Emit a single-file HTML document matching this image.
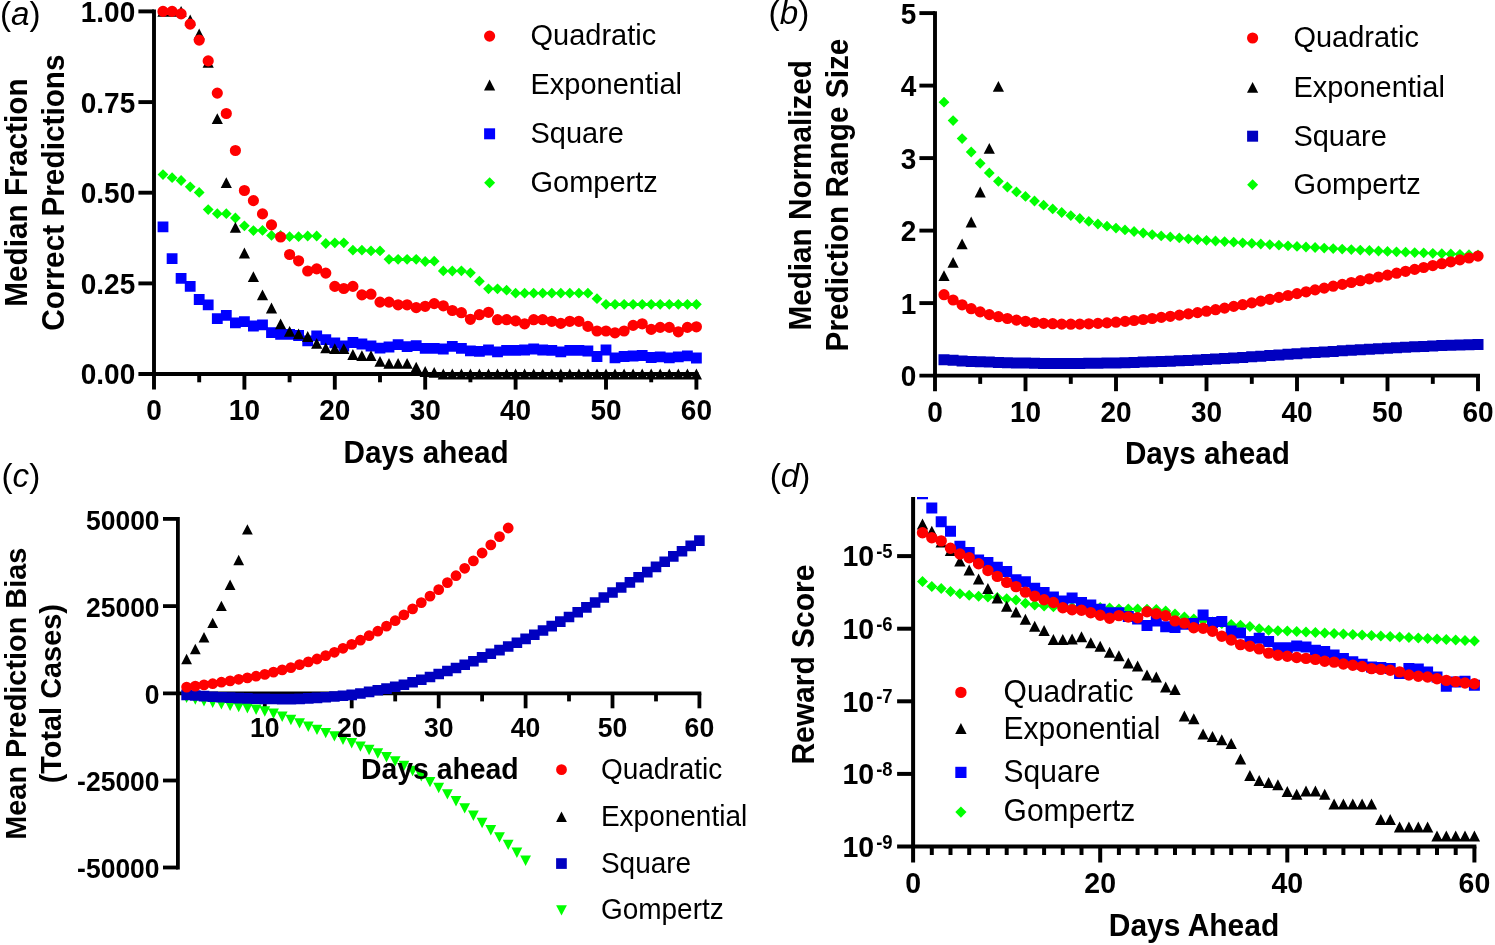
<!DOCTYPE html>
<html lang="en">
<head>
<meta charset="utf-8">
<title>Figure: prediction performance by model (Quadratic, Exponential, Square, Gompertz)</title>
<style>
html,body{margin:0;padding:0;background:#fff;}
body{width:1495px;height:945px;overflow:hidden;font-family:"Liberation Sans",sans-serif;}
svg{display:block;}
svg{will-change:transform;}
</style>
</head>
<body>
<svg width="1495" height="945" viewBox="0 0 1495 945" font-family="'Liberation Sans', sans-serif" fill="#000">
<rect width="1495" height="945" fill="#fff"/>
<path d="M154 9.5L154 389.6" stroke="#000" stroke-width="3.9" fill="none"/>
<path d="M138.4 374L698.4 374" stroke="#000" stroke-width="3.9" fill="none"/>
<path d="M138.4 11.4L154 11.4" stroke="#000" stroke-width="3.9" fill="none"/>
<path d="M138.4 102.1L154 102.1" stroke="#000" stroke-width="3.9" fill="none"/>
<path d="M138.4 192.7L154 192.7" stroke="#000" stroke-width="3.9" fill="none"/>
<path d="M138.4 283.4L154 283.4" stroke="#000" stroke-width="3.9" fill="none"/>
<path d="M244.4 374L244.4 389.6" stroke="#000" stroke-width="3.9" fill="none"/>
<path d="M334.8 374L334.8 389.6" stroke="#000" stroke-width="3.9" fill="none"/>
<path d="M425.2 374L425.2 389.6" stroke="#000" stroke-width="3.9" fill="none"/>
<path d="M515.6 374L515.6 389.6" stroke="#000" stroke-width="3.9" fill="none"/>
<path d="M606 374L606 389.6" stroke="#000" stroke-width="3.9" fill="none"/>
<path d="M696.4 374L696.4 389.6" stroke="#000" stroke-width="3.9" fill="none"/>
<path d="M199.2 374L199.2 382.3" stroke="#000" stroke-width="3.9" fill="none"/>
<path d="M289.6 374L289.6 382.3" stroke="#000" stroke-width="3.9" fill="none"/>
<path d="M380 374L380 382.3" stroke="#000" stroke-width="3.9" fill="none"/>
<path d="M470.4 374L470.4 382.3" stroke="#000" stroke-width="3.9" fill="none"/>
<path d="M560.8 374L560.8 382.3" stroke="#000" stroke-width="3.9" fill="none"/>
<path d="M651.2 374L651.2 382.3" stroke="#000" stroke-width="3.9" fill="none"/>
<path d="M163 169.2l5.4 5.4l-5.4 5.4l-5.4 -5.4zM172.1 172.3l5.4 5.4l-5.4 5.4l-5.4 -5.4zM181.1 175.1l5.4 5.4l-5.4 5.4l-5.4 -5.4zM190.2 181.4l5.4 5.4l-5.4 5.4l-5.4 -5.4zM199.2 187l5.4 5.4l-5.4 5.4l-5.4 -5.4zM208.2 204.2l5.4 5.4l-5.4 5.4l-5.4 -5.4zM217.3 208.3l5.4 5.4l-5.4 5.4l-5.4 -5.4zM226.3 208.3l5.4 5.4l-5.4 5.4l-5.4 -5.4zM235.4 212.6l5.4 5.4l-5.4 5.4l-5.4 -5.4zM244.4 220.4l5.4 5.4l-5.4 5.4l-5.4 -5.4zM253.4 225.2l5.4 5.4l-5.4 5.4l-5.4 -5.4zM262.5 225l5.4 5.4l-5.4 5.4l-5.4 -5.4zM271.5 230l5.4 5.4l-5.4 5.4l-5.4 -5.4zM280.6 230l5.4 5.4l-5.4 5.4l-5.4 -5.4zM289.6 231.3l5.4 5.4l-5.4 5.4l-5.4 -5.4zM298.6 231.3l5.4 5.4l-5.4 5.4l-5.4 -5.4zM307.7 230.6l5.4 5.4l-5.4 5.4l-5.4 -5.4zM316.7 230.6l5.4 5.4l-5.4 5.4l-5.4 -5.4zM325.8 238.1l5.4 5.4l-5.4 5.4l-5.4 -5.4zM334.8 237.4l5.4 5.4l-5.4 5.4l-5.4 -5.4zM343.8 237.4l5.4 5.4l-5.4 5.4l-5.4 -5.4zM352.9 244.8l5.4 5.4l-5.4 5.4l-5.4 -5.4zM361.9 244.8l5.4 5.4l-5.4 5.4l-5.4 -5.4zM371 245.5l5.4 5.4l-5.4 5.4l-5.4 -5.4zM380 245.5l5.4 5.4l-5.4 5.4l-5.4 -5.4zM389 253.9l5.4 5.4l-5.4 5.4l-5.4 -5.4zM398.1 253.9l5.4 5.4l-5.4 5.4l-5.4 -5.4zM407.1 253.9l5.4 5.4l-5.4 5.4l-5.4 -5.4zM416.2 253.9l5.4 5.4l-5.4 5.4l-5.4 -5.4zM425.2 256.1l5.4 5.4l-5.4 5.4l-5.4 -5.4zM434.2 255.8l5.4 5.4l-5.4 5.4l-5.4 -5.4zM443.3 265.5l5.4 5.4l-5.4 5.4l-5.4 -5.4zM452.3 265.6l5.4 5.4l-5.4 5.4l-5.4 -5.4zM461.4 265.4l5.4 5.4l-5.4 5.4l-5.4 -5.4zM470.4 267.4l5.4 5.4l-5.4 5.4l-5.4 -5.4zM479.4 275.8l5.4 5.4l-5.4 5.4l-5.4 -5.4zM488.5 283.4l5.4 5.4l-5.4 5.4l-5.4 -5.4zM497.5 283.4l5.4 5.4l-5.4 5.4l-5.4 -5.4zM506.6 284.8l5.4 5.4l-5.4 5.4l-5.4 -5.4zM515.6 287.8l5.4 5.4l-5.4 5.4l-5.4 -5.4zM524.6 287.8l5.4 5.4l-5.4 5.4l-5.4 -5.4zM533.7 287.8l5.4 5.4l-5.4 5.4l-5.4 -5.4zM542.7 287.8l5.4 5.4l-5.4 5.4l-5.4 -5.4zM551.8 287.8l5.4 5.4l-5.4 5.4l-5.4 -5.4zM560.8 287.8l5.4 5.4l-5.4 5.4l-5.4 -5.4zM569.8 287.8l5.4 5.4l-5.4 5.4l-5.4 -5.4zM578.9 287.8l5.4 5.4l-5.4 5.4l-5.4 -5.4zM587.9 287.8l5.4 5.4l-5.4 5.4l-5.4 -5.4zM597 293.3l5.4 5.4l-5.4 5.4l-5.4 -5.4zM606 298.9l5.4 5.4l-5.4 5.4l-5.4 -5.4zM615 298.9l5.4 5.4l-5.4 5.4l-5.4 -5.4zM624.1 298.9l5.4 5.4l-5.4 5.4l-5.4 -5.4zM633.1 298.9l5.4 5.4l-5.4 5.4l-5.4 -5.4zM642.2 298.9l5.4 5.4l-5.4 5.4l-5.4 -5.4zM651.2 298.9l5.4 5.4l-5.4 5.4l-5.4 -5.4zM660.2 298.9l5.4 5.4l-5.4 5.4l-5.4 -5.4zM669.3 298.9l5.4 5.4l-5.4 5.4l-5.4 -5.4zM678.3 298.9l5.4 5.4l-5.4 5.4l-5.4 -5.4zM687.4 298.9l5.4 5.4l-5.4 5.4l-5.4 -5.4zM696.4 298.9l5.4 5.4l-5.4 5.4l-5.4 -5.4z" fill="#00ff00"/>
<path d="M157.6 221.4h10.8v10.8h-10.8zM166.7 253.3h10.8v10.8h-10.8zM175.7 273h10.8v10.8h-10.8zM184.8 281h10.8v10.8h-10.8zM193.8 294.1h10.8v10.8h-10.8zM202.8 299.4h10.8v10.8h-10.8zM211.9 313.2h10.8v10.8h-10.8zM220.9 310h10.8v10.8h-10.8zM230 317.4h10.8v10.8h-10.8zM239 316.3h10.8v10.8h-10.8zM248 320.6h10.8v10.8h-10.8zM257.1 319.5h10.8v10.8h-10.8zM266.1 327.3h10.8v10.8h-10.8zM275.2 329h10.8v10.8h-10.8zM284.2 329h10.8v10.8h-10.8zM293.2 330.1h10.8v10.8h-10.8zM302.3 335.4h10.8v10.8h-10.8zM311.3 330.5h10.8v10.8h-10.8zM320.4 334.3h10.8v10.8h-10.8zM329.4 337.5h10.8v10.8h-10.8zM338.4 340.6h10.8v10.8h-10.8zM347.5 337.1h10.8v10.8h-10.8zM356.5 338.6h10.8v10.8h-10.8zM365.6 340.6h10.8v10.8h-10.8zM374.6 342.8h10.8v10.8h-10.8zM383.6 341.6h10.8v10.8h-10.8zM392.7 339.2h10.8v10.8h-10.8zM401.7 341.3h10.8v10.8h-10.8zM410.8 340.2h10.8v10.8h-10.8zM419.8 342.9h10.8v10.8h-10.8zM428.8 343h10.8v10.8h-10.8zM437.9 343.6h10.8v10.8h-10.8zM446.9 341h10.8v10.8h-10.8zM456 343h10.8v10.8h-10.8zM465 345.4h10.8v10.8h-10.8zM474 346h10.8v10.8h-10.8zM483.1 344.6h10.8v10.8h-10.8zM492.1 346.4h10.8v10.8h-10.8zM501.2 345h10.8v10.8h-10.8zM510.2 345h10.8v10.8h-10.8zM519.2 344.6h10.8v10.8h-10.8zM528.3 343.6h10.8v10.8h-10.8zM537.3 344.6h10.8v10.8h-10.8zM546.4 345h10.8v10.8h-10.8zM555.4 346.4h10.8v10.8h-10.8zM564.4 345h10.8v10.8h-10.8zM573.5 345h10.8v10.8h-10.8zM582.5 345.6h10.8v10.8h-10.8zM591.6 351.1h10.8v10.8h-10.8zM600.6 344.6h10.8v10.8h-10.8zM609.6 352.5h10.8v10.8h-10.8zM618.7 351.1h10.8v10.8h-10.8zM627.7 350.6h10.8v10.8h-10.8zM636.8 350.1h10.8v10.8h-10.8zM645.8 352.1h10.8v10.8h-10.8zM654.8 351.5h10.8v10.8h-10.8zM663.9 352.5h10.8v10.8h-10.8zM672.9 351.5h10.8v10.8h-10.8zM682 350.5h10.8v10.8h-10.8zM691 352.6h10.8v10.8h-10.8z" fill="#0000ff"/>
<path d="M163 6l5.6 10.8h-11.2zM172.1 6l5.6 10.8h-11.2zM181.1 6l5.6 10.8h-11.2zM190.2 14.6l5.6 10.8h-11.2zM199.2 28.6l5.6 10.8h-11.2zM208.2 57l5.6 10.8h-11.2zM217.3 113.2l5.6 10.8h-11.2zM226.3 177.3l5.6 10.8h-11.2zM235.4 222l5.6 10.8h-11.2zM244.4 247.6l5.6 10.8h-11.2zM253.4 271.3l5.6 10.8h-11.2zM262.5 289.5l5.6 10.8h-11.2zM271.5 302.6l5.6 10.8h-11.2zM280.6 318.5l5.6 10.8h-11.2zM289.6 325.9l5.6 10.8h-11.2zM298.6 328.4l5.6 10.8h-11.2zM307.7 331.1l5.6 10.8h-11.2zM316.7 337.9l5.6 10.8h-11.2zM325.8 342.4l5.6 10.8h-11.2zM334.8 343.2l5.6 10.8h-11.2zM343.8 343.2l5.6 10.8h-11.2zM352.9 349.1l5.6 10.8h-11.2zM361.9 350.2l5.6 10.8h-11.2zM371 350.2l5.6 10.8h-11.2zM380 355.9l5.6 10.8h-11.2zM389 358l5.6 10.8h-11.2zM398.1 358l5.6 10.8h-11.2zM407.1 358l5.6 10.8h-11.2zM416.2 361.8l5.6 10.8h-11.2zM425.2 366.1l5.6 10.8h-11.2zM434.2 366.9l5.6 10.8h-11.2zM443.3 368.6l5.6 10.8h-11.2zM452.3 368.6l5.6 10.8h-11.2zM461.4 368.6l5.6 10.8h-11.2zM470.4 368.6l5.6 10.8h-11.2zM479.4 368.6l5.6 10.8h-11.2zM488.5 368.6l5.6 10.8h-11.2zM497.5 368.6l5.6 10.8h-11.2zM506.6 368.6l5.6 10.8h-11.2zM515.6 368.6l5.6 10.8h-11.2zM524.6 368.6l5.6 10.8h-11.2zM533.7 368.6l5.6 10.8h-11.2zM542.7 368.6l5.6 10.8h-11.2zM551.8 368.6l5.6 10.8h-11.2zM560.8 368.6l5.6 10.8h-11.2zM569.8 368.6l5.6 10.8h-11.2zM578.9 368.6l5.6 10.8h-11.2zM587.9 368.6l5.6 10.8h-11.2zM597 368.6l5.6 10.8h-11.2zM606 368.6l5.6 10.8h-11.2zM615 368.6l5.6 10.8h-11.2zM624.1 368.6l5.6 10.8h-11.2zM633.1 368.6l5.6 10.8h-11.2zM642.2 368.6l5.6 10.8h-11.2zM651.2 368.6l5.6 10.8h-11.2zM660.2 368.6l5.6 10.8h-11.2zM669.3 368.6l5.6 10.8h-11.2zM678.3 368.6l5.6 10.8h-11.2zM687.4 368.6l5.6 10.8h-11.2zM696.4 368.6l5.6 10.8h-11.2z" fill="#000"/>
<path d="M157.4 11.4a5.6 5.6 0 1 0 11.2 0a5.6 5.6 0 1 0 -11.2 0zM166.5 11.4a5.6 5.6 0 1 0 11.2 0a5.6 5.6 0 1 0 -11.2 0zM175.5 13.9a5.6 5.6 0 1 0 11.2 0a5.6 5.6 0 1 0 -11.2 0zM184.6 24.1a5.6 5.6 0 1 0 11.2 0a5.6 5.6 0 1 0 -11.2 0zM193.6 40.1a5.6 5.6 0 1 0 11.2 0a5.6 5.6 0 1 0 -11.2 0zM202.6 60.9a5.6 5.6 0 1 0 11.2 0a5.6 5.6 0 1 0 -11.2 0zM211.7 93.1a5.6 5.6 0 1 0 11.2 0a5.6 5.6 0 1 0 -11.2 0zM220.7 113.5a5.6 5.6 0 1 0 11.2 0a5.6 5.6 0 1 0 -11.2 0zM229.8 150.5a5.6 5.6 0 1 0 11.2 0a5.6 5.6 0 1 0 -11.2 0zM238.8 190.5a5.6 5.6 0 1 0 11.2 0a5.6 5.6 0 1 0 -11.2 0zM247.8 200.6a5.6 5.6 0 1 0 11.2 0a5.6 5.6 0 1 0 -11.2 0zM256.9 213.9a5.6 5.6 0 1 0 11.2 0a5.6 5.6 0 1 0 -11.2 0zM265.9 224.9a5.6 5.6 0 1 0 11.2 0a5.6 5.6 0 1 0 -11.2 0zM275 237a5.6 5.6 0 1 0 11.2 0a5.6 5.6 0 1 0 -11.2 0zM284 254.5a5.6 5.6 0 1 0 11.2 0a5.6 5.6 0 1 0 -11.2 0zM293 260.8a5.6 5.6 0 1 0 11.2 0a5.6 5.6 0 1 0 -11.2 0zM302.1 271a5.6 5.6 0 1 0 11.2 0a5.6 5.6 0 1 0 -11.2 0zM311.1 268.9a5.6 5.6 0 1 0 11.2 0a5.6 5.6 0 1 0 -11.2 0zM320.2 273.1a5.6 5.6 0 1 0 11.2 0a5.6 5.6 0 1 0 -11.2 0zM329.2 286.4a5.6 5.6 0 1 0 11.2 0a5.6 5.6 0 1 0 -11.2 0zM338.2 288.5a5.6 5.6 0 1 0 11.2 0a5.6 5.6 0 1 0 -11.2 0zM347.3 286.4a5.6 5.6 0 1 0 11.2 0a5.6 5.6 0 1 0 -11.2 0zM356.3 294.9a5.6 5.6 0 1 0 11.2 0a5.6 5.6 0 1 0 -11.2 0zM365.4 294.2a5.6 5.6 0 1 0 11.2 0a5.6 5.6 0 1 0 -11.2 0zM374.4 302.1a5.6 5.6 0 1 0 11.2 0a5.6 5.6 0 1 0 -11.2 0zM383.4 302.1a5.6 5.6 0 1 0 11.2 0a5.6 5.6 0 1 0 -11.2 0zM392.5 304.8a5.6 5.6 0 1 0 11.2 0a5.6 5.6 0 1 0 -11.2 0zM401.5 304.8a5.6 5.6 0 1 0 11.2 0a5.6 5.6 0 1 0 -11.2 0zM410.6 307.6a5.6 5.6 0 1 0 11.2 0a5.6 5.6 0 1 0 -11.2 0zM419.6 306.3a5.6 5.6 0 1 0 11.2 0a5.6 5.6 0 1 0 -11.2 0zM428.6 303.6a5.6 5.6 0 1 0 11.2 0a5.6 5.6 0 1 0 -11.2 0zM437.7 305.8a5.6 5.6 0 1 0 11.2 0a5.6 5.6 0 1 0 -11.2 0zM446.7 310.5a5.6 5.6 0 1 0 11.2 0a5.6 5.6 0 1 0 -11.2 0zM455.8 312.7a5.6 5.6 0 1 0 11.2 0a5.6 5.6 0 1 0 -11.2 0zM464.8 319.3a5.6 5.6 0 1 0 11.2 0a5.6 5.6 0 1 0 -11.2 0zM473.8 314.7a5.6 5.6 0 1 0 11.2 0a5.6 5.6 0 1 0 -11.2 0zM482.9 312.3a5.6 5.6 0 1 0 11.2 0a5.6 5.6 0 1 0 -11.2 0zM491.9 319.7a5.6 5.6 0 1 0 11.2 0a5.6 5.6 0 1 0 -11.2 0zM501 319.7a5.6 5.6 0 1 0 11.2 0a5.6 5.6 0 1 0 -11.2 0zM510 320.9a5.6 5.6 0 1 0 11.2 0a5.6 5.6 0 1 0 -11.2 0zM519 323.8a5.6 5.6 0 1 0 11.2 0a5.6 5.6 0 1 0 -11.2 0zM528.1 319.7a5.6 5.6 0 1 0 11.2 0a5.6 5.6 0 1 0 -11.2 0zM537.1 319.7a5.6 5.6 0 1 0 11.2 0a5.6 5.6 0 1 0 -11.2 0zM546.2 321.3a5.6 5.6 0 1 0 11.2 0a5.6 5.6 0 1 0 -11.2 0zM555.2 323.4a5.6 5.6 0 1 0 11.2 0a5.6 5.6 0 1 0 -11.2 0zM564.2 321.3a5.6 5.6 0 1 0 11.2 0a5.6 5.6 0 1 0 -11.2 0zM573.3 321.3a5.6 5.6 0 1 0 11.2 0a5.6 5.6 0 1 0 -11.2 0zM582.3 326.4a5.6 5.6 0 1 0 11.2 0a5.6 5.6 0 1 0 -11.2 0zM591.4 331a5.6 5.6 0 1 0 11.2 0a5.6 5.6 0 1 0 -11.2 0zM600.4 331a5.6 5.6 0 1 0 11.2 0a5.6 5.6 0 1 0 -11.2 0zM609.4 332.8a5.6 5.6 0 1 0 11.2 0a5.6 5.6 0 1 0 -11.2 0zM618.5 331a5.6 5.6 0 1 0 11.2 0a5.6 5.6 0 1 0 -11.2 0zM627.5 325.4a5.6 5.6 0 1 0 11.2 0a5.6 5.6 0 1 0 -11.2 0zM636.6 323.8a5.6 5.6 0 1 0 11.2 0a5.6 5.6 0 1 0 -11.2 0zM645.6 329.4a5.6 5.6 0 1 0 11.2 0a5.6 5.6 0 1 0 -11.2 0zM654.6 327.4a5.6 5.6 0 1 0 11.2 0a5.6 5.6 0 1 0 -11.2 0zM663.7 327.4a5.6 5.6 0 1 0 11.2 0a5.6 5.6 0 1 0 -11.2 0zM672.7 331.8a5.6 5.6 0 1 0 11.2 0a5.6 5.6 0 1 0 -11.2 0zM681.8 327.4a5.6 5.6 0 1 0 11.2 0a5.6 5.6 0 1 0 -11.2 0zM690.8 326.8a5.6 5.6 0 1 0 11.2 0a5.6 5.6 0 1 0 -11.2 0z" fill="#ff0000"/>
<text transform="translate(135.2 21.8) scale(1 1.045)" font-size="28" font-weight="bold" text-anchor="end">1.00</text>
<text transform="translate(135.2 112.5) scale(1 1.045)" font-size="28" font-weight="bold" text-anchor="end">0.75</text>
<text transform="translate(135.2 203.1) scale(1 1.045)" font-size="28" font-weight="bold" text-anchor="end">0.50</text>
<text transform="translate(135.2 293.8) scale(1 1.045)" font-size="28" font-weight="bold" text-anchor="end">0.25</text>
<text transform="translate(135.2 384.4) scale(1 1.045)" font-size="28" font-weight="bold" text-anchor="end">0.00</text>
<text transform="translate(154 420.2) scale(1 1.045)" font-size="28" font-weight="bold" text-anchor="middle">0</text>
<text transform="translate(244.4 420.2) scale(1 1.045)" font-size="28" font-weight="bold" text-anchor="middle">10</text>
<text transform="translate(334.8 420.2) scale(1 1.045)" font-size="28" font-weight="bold" text-anchor="middle">20</text>
<text transform="translate(425.2 420.2) scale(1 1.045)" font-size="28" font-weight="bold" text-anchor="middle">30</text>
<text transform="translate(515.6 420.2) scale(1 1.045)" font-size="28" font-weight="bold" text-anchor="middle">40</text>
<text transform="translate(606 420.2) scale(1 1.045)" font-size="28" font-weight="bold" text-anchor="middle">50</text>
<text transform="translate(696.4 420.2) scale(1 1.045)" font-size="28" font-weight="bold" text-anchor="middle">60</text>
<text transform="translate(426.1 462.9) scale(1 1.045)" font-size="29.7" font-weight="bold" text-anchor="middle">Days ahead</text>
<text transform="translate(27.4 192.6) rotate(-90) scale(1 1.045)" font-size="29.8" font-weight="bold" text-anchor="middle">Median Fraction</text>
<text transform="translate(64.2 192.6) rotate(-90) scale(1 1.045)" font-size="29.8" font-weight="bold" text-anchor="middle">Correct Predictions</text>
<text x="0" y="25" font-size="33.2" font-weight="normal">(<tspan font-style="italic">a</tspan>)</text>
<path d="M484 36.1a5.6 5.6 0 1 0 11.2 0a5.6 5.6 0 1 0 -11.2 0z" fill="#ff0000"/>
<path d="M489.6 79.6l5.6 10.8h-11.2z" fill="#000"/>
<path d="M484.1 128.3h11v11h-11z" fill="#0000ff"/>
<path d="M489.6 177.2l5.5 5.5l-5.5 5.5l-5.5 -5.5z" fill="#00ff00"/>
<text transform="translate(530.5 45.4) scale(1 1.045)" font-size="29" font-weight="normal" text-anchor="start">Quadratic</text>
<text transform="translate(530.5 94.3) scale(1 1.045)" font-size="29" font-weight="normal" text-anchor="start">Exponential</text>
<text transform="translate(530.5 143.1) scale(1 1.045)" font-size="29" font-weight="normal" text-anchor="start">Square</text>
<text transform="translate(530.5 192) scale(1 1.045)" font-size="29" font-weight="normal" text-anchor="start">Gompertz</text>
<path d="M935 11.2L935 391.2" stroke="#000" stroke-width="3.9" fill="none"/>
<path d="M919.4 375.6L1480 375.6" stroke="#000" stroke-width="3.9" fill="none"/>
<path d="M919.4 13.1L935 13.1" stroke="#000" stroke-width="3.9" fill="none"/>
<path d="M919.4 85.6L935 85.6" stroke="#000" stroke-width="3.9" fill="none"/>
<path d="M919.4 158.1L935 158.1" stroke="#000" stroke-width="3.9" fill="none"/>
<path d="M919.4 230.6L935 230.6" stroke="#000" stroke-width="3.9" fill="none"/>
<path d="M919.4 303.1L935 303.1" stroke="#000" stroke-width="3.9" fill="none"/>
<path d="M1025.5 375.6L1025.5 391.2" stroke="#000" stroke-width="3.9" fill="none"/>
<path d="M1116 375.6L1116 391.2" stroke="#000" stroke-width="3.9" fill="none"/>
<path d="M1206.5 375.6L1206.5 391.2" stroke="#000" stroke-width="3.9" fill="none"/>
<path d="M1297 375.6L1297 391.2" stroke="#000" stroke-width="3.9" fill="none"/>
<path d="M1387.5 375.6L1387.5 391.2" stroke="#000" stroke-width="3.9" fill="none"/>
<path d="M1478 375.6L1478 391.2" stroke="#000" stroke-width="3.9" fill="none"/>
<path d="M980.2 375.6L980.2 383.9" stroke="#000" stroke-width="3.9" fill="none"/>
<path d="M1070.8 375.6L1070.8 383.9" stroke="#000" stroke-width="3.9" fill="none"/>
<path d="M1161.2 375.6L1161.2 383.9" stroke="#000" stroke-width="3.9" fill="none"/>
<path d="M1251.8 375.6L1251.8 383.9" stroke="#000" stroke-width="3.9" fill="none"/>
<path d="M1342.2 375.6L1342.2 383.9" stroke="#000" stroke-width="3.9" fill="none"/>
<path d="M1432.8 375.6L1432.8 383.9" stroke="#000" stroke-width="3.9" fill="none"/>
<path d="M944 96.8l5.4 5.4l-5.4 5.4l-5.4 -5.4zM953.1 115.2l5.4 5.4l-5.4 5.4l-5.4 -5.4zM962.1 133.2l5.4 5.4l-5.4 5.4l-5.4 -5.4zM971.2 146.6l5.4 5.4l-5.4 5.4l-5.4 -5.4zM980.2 157.9l5.4 5.4l-5.4 5.4l-5.4 -5.4zM989.3 167.5l5.4 5.4l-5.4 5.4l-5.4 -5.4zM998.4 175.9l5.4 5.4l-5.4 5.4l-5.4 -5.4zM1007.4 181.6l5.4 5.4l-5.4 5.4l-5.4 -5.4zM1016.5 186.5l5.4 5.4l-5.4 5.4l-5.4 -5.4zM1025.5 191l5.4 5.4l-5.4 5.4l-5.4 -5.4zM1034.5 195.6l5.4 5.4l-5.4 5.4l-5.4 -5.4zM1043.6 199.8l5.4 5.4l-5.4 5.4l-5.4 -5.4zM1052.7 203.5l5.4 5.4l-5.4 5.4l-5.4 -5.4zM1061.7 207.1l5.4 5.4l-5.4 5.4l-5.4 -5.4zM1070.8 210.2l5.4 5.4l-5.4 5.4l-5.4 -5.4zM1079.8 213.1l5.4 5.4l-5.4 5.4l-5.4 -5.4zM1088.8 216l5.4 5.4l-5.4 5.4l-5.4 -5.4zM1097.9 218.6l5.4 5.4l-5.4 5.4l-5.4 -5.4zM1107 220.8l5.4 5.4l-5.4 5.4l-5.4 -5.4zM1116 222.7l5.4 5.4l-5.4 5.4l-5.4 -5.4zM1125 224.5l5.4 5.4l-5.4 5.4l-5.4 -5.4zM1134.1 226.1l5.4 5.4l-5.4 5.4l-5.4 -5.4zM1143.2 227.6l5.4 5.4l-5.4 5.4l-5.4 -5.4zM1152.2 229.2l5.4 5.4l-5.4 5.4l-5.4 -5.4zM1161.2 230.5l5.4 5.4l-5.4 5.4l-5.4 -5.4zM1170.3 231.5l5.4 5.4l-5.4 5.4l-5.4 -5.4zM1179.3 232.5l5.4 5.4l-5.4 5.4l-5.4 -5.4zM1188.4 233.4l5.4 5.4l-5.4 5.4l-5.4 -5.4zM1197.5 234.2l5.4 5.4l-5.4 5.4l-5.4 -5.4zM1206.5 234.9l5.4 5.4l-5.4 5.4l-5.4 -5.4zM1215.5 235.6l5.4 5.4l-5.4 5.4l-5.4 -5.4zM1224.6 236.2l5.4 5.4l-5.4 5.4l-5.4 -5.4zM1233.7 236.8l5.4 5.4l-5.4 5.4l-5.4 -5.4zM1242.7 237.4l5.4 5.4l-5.4 5.4l-5.4 -5.4zM1251.8 238l5.4 5.4l-5.4 5.4l-5.4 -5.4zM1260.8 238.6l5.4 5.4l-5.4 5.4l-5.4 -5.4zM1269.8 239.2l5.4 5.4l-5.4 5.4l-5.4 -5.4zM1278.9 239.8l5.4 5.4l-5.4 5.4l-5.4 -5.4zM1288 240.4l5.4 5.4l-5.4 5.4l-5.4 -5.4zM1297 241l5.4 5.4l-5.4 5.4l-5.4 -5.4zM1306 241.6l5.4 5.4l-5.4 5.4l-5.4 -5.4zM1315.1 242.1l5.4 5.4l-5.4 5.4l-5.4 -5.4zM1324.2 242.7l5.4 5.4l-5.4 5.4l-5.4 -5.4zM1333.2 243.2l5.4 5.4l-5.4 5.4l-5.4 -5.4zM1342.2 243.7l5.4 5.4l-5.4 5.4l-5.4 -5.4zM1351.3 244.2l5.4 5.4l-5.4 5.4l-5.4 -5.4zM1360.3 244.7l5.4 5.4l-5.4 5.4l-5.4 -5.4zM1369.4 245.1l5.4 5.4l-5.4 5.4l-5.4 -5.4zM1378.5 245.6l5.4 5.4l-5.4 5.4l-5.4 -5.4zM1387.5 246l5.4 5.4l-5.4 5.4l-5.4 -5.4zM1396.5 246.4l5.4 5.4l-5.4 5.4l-5.4 -5.4zM1405.6 246.8l5.4 5.4l-5.4 5.4l-5.4 -5.4zM1414.7 247.2l5.4 5.4l-5.4 5.4l-5.4 -5.4zM1423.7 247.5l5.4 5.4l-5.4 5.4l-5.4 -5.4zM1432.8 247.9l5.4 5.4l-5.4 5.4l-5.4 -5.4zM1441.8 248.3l5.4 5.4l-5.4 5.4l-5.4 -5.4zM1450.8 248.6l5.4 5.4l-5.4 5.4l-5.4 -5.4zM1459.9 248.9l5.4 5.4l-5.4 5.4l-5.4 -5.4zM1469 249.3l5.4 5.4l-5.4 5.4l-5.4 -5.4zM1478 249.6l5.4 5.4l-5.4 5.4l-5.4 -5.4z" fill="#00ff00"/>
<path d="M938.5 354.3h11v11h-11zM947.6 354.8h11v11h-11zM956.6 355.4h11v11h-11zM965.7 355.9h11v11h-11zM974.8 356.3h11v11h-11zM983.8 356.6h11v11h-11zM992.9 356.9h11v11h-11zM1001.9 357.2h11v11h-11zM1011 357.4h11v11h-11zM1020 357.6h11v11h-11zM1029 357.8h11v11h-11zM1038.1 357.9h11v11h-11zM1047.2 358h11v11h-11zM1056.2 358h11v11h-11zM1065.2 357.9h11v11h-11zM1074.3 357.9h11v11h-11zM1083.3 357.8h11v11h-11zM1092.4 357.7h11v11h-11zM1101.5 357.6h11v11h-11zM1110.5 357.4h11v11h-11zM1119.5 357.2h11v11h-11zM1128.6 356.9h11v11h-11zM1137.7 356.6h11v11h-11zM1146.7 356.3h11v11h-11zM1155.8 356h11v11h-11zM1164.8 355.7h11v11h-11zM1173.8 355.3h11v11h-11zM1182.9 354.9h11v11h-11zM1192 354.5h11v11h-11zM1201 354.1h11v11h-11zM1210 353.6h11v11h-11zM1219.1 353.1h11v11h-11zM1228.2 352.5h11v11h-11zM1237.2 351.9h11v11h-11zM1246.2 351.3h11v11h-11zM1255.3 350.7h11v11h-11zM1264.3 350.1h11v11h-11zM1273.4 349.4h11v11h-11zM1282.5 348.8h11v11h-11zM1291.5 348.2h11v11h-11zM1300.5 347.6h11v11h-11zM1309.6 347h11v11h-11zM1318.7 346.4h11v11h-11zM1327.7 345.9h11v11h-11zM1336.8 345.3h11v11h-11zM1345.8 344.8h11v11h-11zM1354.8 344.2h11v11h-11zM1363.9 343.7h11v11h-11zM1373 343.2h11v11h-11zM1382 342.7h11v11h-11zM1391 342.2h11v11h-11zM1400.1 341.8h11v11h-11zM1409.2 341.3h11v11h-11zM1418.2 340.9h11v11h-11zM1427.2 340.5h11v11h-11zM1436.3 340.1h11v11h-11zM1445.3 339.8h11v11h-11zM1454.4 339.5h11v11h-11zM1463.5 339.2h11v11h-11zM1472.5 338.9h11v11h-11z" fill="#0000c0"/>
<path d="M944 270.3l5.6 10.8h-11.2zM953.1 257l5.6 10.8h-11.2zM962.1 238.5l5.6 10.8h-11.2zM971.2 216.6l5.6 10.8h-11.2zM980.2 186.6l5.6 10.8h-11.2zM989.3 142.9l5.6 10.8h-11.2zM998.4 80.9l5.6 10.8h-11.2z" fill="#000"/>
<path d="M938.4 294.7a5.6 5.6 0 1 0 11.2 0a5.6 5.6 0 1 0 -11.2 0zM947.5 300a5.6 5.6 0 1 0 11.2 0a5.6 5.6 0 1 0 -11.2 0zM956.5 304.8a5.6 5.6 0 1 0 11.2 0a5.6 5.6 0 1 0 -11.2 0zM965.6 308.7a5.6 5.6 0 1 0 11.2 0a5.6 5.6 0 1 0 -11.2 0zM974.6 311.9a5.6 5.6 0 1 0 11.2 0a5.6 5.6 0 1 0 -11.2 0zM983.7 314.6a5.6 5.6 0 1 0 11.2 0a5.6 5.6 0 1 0 -11.2 0zM992.8 316.7a5.6 5.6 0 1 0 11.2 0a5.6 5.6 0 1 0 -11.2 0zM1001.8 318.5a5.6 5.6 0 1 0 11.2 0a5.6 5.6 0 1 0 -11.2 0zM1010.9 320.1a5.6 5.6 0 1 0 11.2 0a5.6 5.6 0 1 0 -11.2 0zM1019.9 321.3a5.6 5.6 0 1 0 11.2 0a5.6 5.6 0 1 0 -11.2 0zM1029 322.5a5.6 5.6 0 1 0 11.2 0a5.6 5.6 0 1 0 -11.2 0zM1038 323.3a5.6 5.6 0 1 0 11.2 0a5.6 5.6 0 1 0 -11.2 0zM1047.1 323.7a5.6 5.6 0 1 0 11.2 0a5.6 5.6 0 1 0 -11.2 0zM1056.1 324.1a5.6 5.6 0 1 0 11.2 0a5.6 5.6 0 1 0 -11.2 0zM1065.2 324.2a5.6 5.6 0 1 0 11.2 0a5.6 5.6 0 1 0 -11.2 0zM1074.2 324.1a5.6 5.6 0 1 0 11.2 0a5.6 5.6 0 1 0 -11.2 0zM1083.2 323.8a5.6 5.6 0 1 0 11.2 0a5.6 5.6 0 1 0 -11.2 0zM1092.3 323.4a5.6 5.6 0 1 0 11.2 0a5.6 5.6 0 1 0 -11.2 0zM1101.4 322.9a5.6 5.6 0 1 0 11.2 0a5.6 5.6 0 1 0 -11.2 0zM1110.4 322.2a5.6 5.6 0 1 0 11.2 0a5.6 5.6 0 1 0 -11.2 0zM1119.5 321.4a5.6 5.6 0 1 0 11.2 0a5.6 5.6 0 1 0 -11.2 0zM1128.5 320.5a5.6 5.6 0 1 0 11.2 0a5.6 5.6 0 1 0 -11.2 0zM1137.6 319.5a5.6 5.6 0 1 0 11.2 0a5.6 5.6 0 1 0 -11.2 0zM1146.6 318.5a5.6 5.6 0 1 0 11.2 0a5.6 5.6 0 1 0 -11.2 0zM1155.7 317.4a5.6 5.6 0 1 0 11.2 0a5.6 5.6 0 1 0 -11.2 0zM1164.7 316.3a5.6 5.6 0 1 0 11.2 0a5.6 5.6 0 1 0 -11.2 0zM1173.8 315.1a5.6 5.6 0 1 0 11.2 0a5.6 5.6 0 1 0 -11.2 0zM1182.8 313.9a5.6 5.6 0 1 0 11.2 0a5.6 5.6 0 1 0 -11.2 0zM1191.9 312.6a5.6 5.6 0 1 0 11.2 0a5.6 5.6 0 1 0 -11.2 0zM1200.9 311.2a5.6 5.6 0 1 0 11.2 0a5.6 5.6 0 1 0 -11.2 0zM1210 309.7a5.6 5.6 0 1 0 11.2 0a5.6 5.6 0 1 0 -11.2 0zM1219 308.1a5.6 5.6 0 1 0 11.2 0a5.6 5.6 0 1 0 -11.2 0zM1228.1 306.4a5.6 5.6 0 1 0 11.2 0a5.6 5.6 0 1 0 -11.2 0zM1237.1 304.7a5.6 5.6 0 1 0 11.2 0a5.6 5.6 0 1 0 -11.2 0zM1246.2 302.9a5.6 5.6 0 1 0 11.2 0a5.6 5.6 0 1 0 -11.2 0zM1255.2 301.1a5.6 5.6 0 1 0 11.2 0a5.6 5.6 0 1 0 -11.2 0zM1264.2 299.3a5.6 5.6 0 1 0 11.2 0a5.6 5.6 0 1 0 -11.2 0zM1273.3 297.4a5.6 5.6 0 1 0 11.2 0a5.6 5.6 0 1 0 -11.2 0zM1282.4 295.5a5.6 5.6 0 1 0 11.2 0a5.6 5.6 0 1 0 -11.2 0zM1291.4 293.6a5.6 5.6 0 1 0 11.2 0a5.6 5.6 0 1 0 -11.2 0zM1300.5 291.8a5.6 5.6 0 1 0 11.2 0a5.6 5.6 0 1 0 -11.2 0zM1309.5 289.9a5.6 5.6 0 1 0 11.2 0a5.6 5.6 0 1 0 -11.2 0zM1318.6 288.1a5.6 5.6 0 1 0 11.2 0a5.6 5.6 0 1 0 -11.2 0zM1327.6 286.2a5.6 5.6 0 1 0 11.2 0a5.6 5.6 0 1 0 -11.2 0zM1336.7 284.4a5.6 5.6 0 1 0 11.2 0a5.6 5.6 0 1 0 -11.2 0zM1345.7 282.5a5.6 5.6 0 1 0 11.2 0a5.6 5.6 0 1 0 -11.2 0zM1354.8 280.7a5.6 5.6 0 1 0 11.2 0a5.6 5.6 0 1 0 -11.2 0zM1363.8 278.8a5.6 5.6 0 1 0 11.2 0a5.6 5.6 0 1 0 -11.2 0zM1372.9 277a5.6 5.6 0 1 0 11.2 0a5.6 5.6 0 1 0 -11.2 0zM1381.9 275.1a5.6 5.6 0 1 0 11.2 0a5.6 5.6 0 1 0 -11.2 0zM1391 273.2a5.6 5.6 0 1 0 11.2 0a5.6 5.6 0 1 0 -11.2 0zM1400 271.3a5.6 5.6 0 1 0 11.2 0a5.6 5.6 0 1 0 -11.2 0zM1409.1 269.4a5.6 5.6 0 1 0 11.2 0a5.6 5.6 0 1 0 -11.2 0zM1418.1 267.5a5.6 5.6 0 1 0 11.2 0a5.6 5.6 0 1 0 -11.2 0zM1427.2 265.6a5.6 5.6 0 1 0 11.2 0a5.6 5.6 0 1 0 -11.2 0zM1436.2 263.7a5.6 5.6 0 1 0 11.2 0a5.6 5.6 0 1 0 -11.2 0zM1445.2 261.8a5.6 5.6 0 1 0 11.2 0a5.6 5.6 0 1 0 -11.2 0zM1454.3 259.9a5.6 5.6 0 1 0 11.2 0a5.6 5.6 0 1 0 -11.2 0zM1463.4 258a5.6 5.6 0 1 0 11.2 0a5.6 5.6 0 1 0 -11.2 0zM1472.4 256.1a5.6 5.6 0 1 0 11.2 0a5.6 5.6 0 1 0 -11.2 0z" fill="#ff0000"/>
<text transform="translate(916.3 23.6) scale(1 1.045)" font-size="28" font-weight="bold" text-anchor="end">5</text>
<text transform="translate(916.3 96.1) scale(1 1.045)" font-size="28" font-weight="bold" text-anchor="end">4</text>
<text transform="translate(916.3 168.6) scale(1 1.045)" font-size="28" font-weight="bold" text-anchor="end">3</text>
<text transform="translate(916.3 241.1) scale(1 1.045)" font-size="28" font-weight="bold" text-anchor="end">2</text>
<text transform="translate(916.3 313.6) scale(1 1.045)" font-size="28" font-weight="bold" text-anchor="end">1</text>
<text transform="translate(916.3 386.1) scale(1 1.045)" font-size="28" font-weight="bold" text-anchor="end">0</text>
<text transform="translate(935 421.7) scale(1 1.045)" font-size="28" font-weight="bold" text-anchor="middle">0</text>
<text transform="translate(1025.5 421.7) scale(1 1.045)" font-size="28" font-weight="bold" text-anchor="middle">10</text>
<text transform="translate(1116 421.7) scale(1 1.045)" font-size="28" font-weight="bold" text-anchor="middle">20</text>
<text transform="translate(1206.5 421.7) scale(1 1.045)" font-size="28" font-weight="bold" text-anchor="middle">30</text>
<text transform="translate(1297 421.7) scale(1 1.045)" font-size="28" font-weight="bold" text-anchor="middle">40</text>
<text transform="translate(1387.5 421.7) scale(1 1.045)" font-size="28" font-weight="bold" text-anchor="middle">50</text>
<text transform="translate(1478 421.7) scale(1 1.045)" font-size="28" font-weight="bold" text-anchor="middle">60</text>
<text transform="translate(1207.4 464.3) scale(1 1.045)" font-size="29.7" font-weight="bold" text-anchor="middle">Days ahead</text>
<text transform="translate(810.8 195.3) rotate(-90) scale(1 1.045)" font-size="29.7" font-weight="bold" text-anchor="middle">Median Normalized</text>
<text transform="translate(848 195) rotate(-90) scale(1 1.045)" font-size="29.8" font-weight="bold" text-anchor="middle">Prediction Range Size</text>
<text x="768.6" y="24" font-size="33.2" font-weight="normal">(<tspan font-style="italic">b</tspan>)</text>
<path d="M1247 38a5.6 5.6 0 1 0 11.2 0a5.6 5.6 0 1 0 -11.2 0z" fill="#ff0000"/>
<path d="M1252.6 81.9l5.6 10.8h-11.2z" fill="#000"/>
<path d="M1247.1 130.7h11v11h-11z" fill="#0000c0"/>
<path d="M1252.6 179.3l5.5 5.5l-5.5 5.5l-5.5 -5.5z" fill="#00ff00"/>
<text transform="translate(1293.4 47.4) scale(1 1.045)" font-size="29" font-weight="normal" text-anchor="start">Quadratic</text>
<text transform="translate(1293.4 96.7) scale(1 1.045)" font-size="29" font-weight="normal" text-anchor="start">Exponential</text>
<text transform="translate(1293.4 145.6) scale(1 1.045)" font-size="29" font-weight="normal" text-anchor="start">Square</text>
<text transform="translate(1293.4 194.2) scale(1 1.045)" font-size="29" font-weight="normal" text-anchor="start">Gompertz</text>
<path d="M177.9 517L177.9 869.4" stroke="#000" stroke-width="3.8" fill="none"/>
<path d="M163 693.4L701.3 693.4" stroke="#000" stroke-width="3.8" fill="none"/>
<path d="M163 518.9L177.9 518.9" stroke="#000" stroke-width="3.8" fill="none"/>
<path d="M163 606.1L177.9 606.1" stroke="#000" stroke-width="3.8" fill="none"/>
<path d="M163 780.5L177.9 780.5" stroke="#000" stroke-width="3.8" fill="none"/>
<path d="M163 867.5L177.9 867.5" stroke="#000" stroke-width="3.8" fill="none"/>
<path d="M264.8 693.4L264.8 708.3" stroke="#000" stroke-width="3.8" fill="none"/>
<path d="M351.7 693.4L351.7 708.3" stroke="#000" stroke-width="3.8" fill="none"/>
<path d="M438.7 693.4L438.7 708.3" stroke="#000" stroke-width="3.8" fill="none"/>
<path d="M525.6 693.4L525.6 708.3" stroke="#000" stroke-width="3.8" fill="none"/>
<path d="M612.5 693.4L612.5 708.3" stroke="#000" stroke-width="3.8" fill="none"/>
<path d="M699.4 693.4L699.4 708.3" stroke="#000" stroke-width="3.8" fill="none"/>
<path d="M221.4 693.4L221.4 701.4" stroke="#000" stroke-width="3.8" fill="none"/>
<path d="M308.3 693.4L308.3 701.4" stroke="#000" stroke-width="3.8" fill="none"/>
<path d="M395.2 693.4L395.2 701.4" stroke="#000" stroke-width="3.8" fill="none"/>
<path d="M482.1 693.4L482.1 701.4" stroke="#000" stroke-width="3.8" fill="none"/>
<path d="M569 693.4L569 701.4" stroke="#000" stroke-width="3.8" fill="none"/>
<path d="M656 693.4L656 701.4" stroke="#000" stroke-width="3.8" fill="none"/>
<path d="M186.6 703.1l5.4 -10.4h-10.8zM195.3 704.7l5.4 -10.4h-10.8zM204 706.4l5.4 -10.4h-10.8zM212.7 708l5.4 -10.4h-10.8zM221.4 709.6l5.4 -10.4h-10.8zM230.1 711l5.4 -10.4h-10.8zM238.7 712.3l5.4 -10.4h-10.8zM247.4 713.5l5.4 -10.4h-10.8zM256.1 715l5.4 -10.4h-10.8zM264.8 716.7l5.4 -10.4h-10.8zM273.5 719l5.4 -10.4h-10.8zM282.2 721.9l5.4 -10.4h-10.8zM290.9 725.2l5.4 -10.4h-10.8zM299.6 728.6l5.4 -10.4h-10.8zM308.3 731.9l5.4 -10.4h-10.8zM317 735.1l5.4 -10.4h-10.8zM325.7 738.3l5.4 -10.4h-10.8zM334.4 741.6l5.4 -10.4h-10.8zM343 745l5.4 -10.4h-10.8zM351.7 748.4l5.4 -10.4h-10.8zM360.4 751.8l5.4 -10.4h-10.8zM369.1 755.2l5.4 -10.4h-10.8zM377.8 758.7l5.4 -10.4h-10.8zM386.5 762.5l5.4 -10.4h-10.8zM395.2 766.6l5.4 -10.4h-10.8zM403.9 771.2l5.4 -10.4h-10.8zM412.6 776.2l5.4 -10.4h-10.8zM421.3 781.6l5.4 -10.4h-10.8zM430 787.3l5.4 -10.4h-10.8zM438.7 793.2l5.4 -10.4h-10.8zM447.4 799.6l5.4 -10.4h-10.8zM456 806.4l5.4 -10.4h-10.8zM464.7 813.6l5.4 -10.4h-10.8zM473.4 820.9l5.4 -10.4h-10.8zM482.1 828.2l5.4 -10.4h-10.8zM490.8 835.4l5.4 -10.4h-10.8zM499.5 842.6l5.4 -10.4h-10.8zM508.2 850.1l5.4 -10.4h-10.8zM516.9 857.9l5.4 -10.4h-10.8zM525.6 866l5.4 -10.4h-10.8z" fill="#00ff00"/>
<path d="M181.3 689.6h10.6v10.6h-10.6zM190 690.2h10.6v10.6h-10.6zM198.7 690.8h10.6v10.6h-10.6zM207.4 691.4h10.6v10.6h-10.6zM216.1 691.9h10.6v10.6h-10.6zM224.8 692.3h10.6v10.6h-10.6zM233.4 692.8h10.6v10.6h-10.6zM242.1 693.1h10.6v10.6h-10.6zM250.8 693.4h10.6v10.6h-10.6zM259.5 693.6h10.6v10.6h-10.6zM268.2 693.7h10.6v10.6h-10.6zM276.9 693.8h10.6v10.6h-10.6zM285.6 693.8h10.6v10.6h-10.6zM294.3 693.6h10.6v10.6h-10.6zM303 693.1h10.6v10.6h-10.6zM311.7 692.6h10.6v10.6h-10.6zM320.4 691.9h10.6v10.6h-10.6zM329.1 691.2h10.6v10.6h-10.6zM337.7 690.5h10.6v10.6h-10.6zM346.4 689.6h10.6v10.6h-10.6zM355.1 688.2h10.6v10.6h-10.6zM363.8 686.6h10.6v10.6h-10.6zM372.5 685h10.6v10.6h-10.6zM381.2 683.3h10.6v10.6h-10.6zM389.9 681.5h10.6v10.6h-10.6zM398.6 679.4h10.6v10.6h-10.6zM407.3 677h10.6v10.6h-10.6zM416 674.5h10.6v10.6h-10.6zM424.7 671.7h10.6v10.6h-10.6zM433.4 668.7h10.6v10.6h-10.6zM442.1 665.7h10.6v10.6h-10.6zM450.7 662.7h10.6v10.6h-10.6zM459.4 659.5h10.6v10.6h-10.6zM468.1 655.9h10.6v10.6h-10.6zM476.8 652.1h10.6v10.6h-10.6zM485.5 648.4h10.6v10.6h-10.6zM494.2 644.8h10.6v10.6h-10.6zM502.9 641.2h10.6v10.6h-10.6zM511.6 637.5h10.6v10.6h-10.6zM520.3 633.6h10.6v10.6h-10.6zM529 629.5h10.6v10.6h-10.6zM537.7 625.2h10.6v10.6h-10.6zM546.4 620.8h10.6v10.6h-10.6zM555 616.3h10.6v10.6h-10.6zM563.7 611.7h10.6v10.6h-10.6zM572.4 607h10.6v10.6h-10.6zM581.1 602.1h10.6v10.6h-10.6zM589.8 597.2h10.6v10.6h-10.6zM598.5 592.2h10.6v10.6h-10.6zM607.2 587.2h10.6v10.6h-10.6zM615.9 582.2h10.6v10.6h-10.6zM624.6 577.1h10.6v10.6h-10.6zM633.3 571.9h10.6v10.6h-10.6zM642 566.8h10.6v10.6h-10.6zM650.7 561.6h10.6v10.6h-10.6zM659.4 556.4h10.6v10.6h-10.6zM668 551.1h10.6v10.6h-10.6zM676.7 545.9h10.6v10.6h-10.6zM685.4 540.6h10.6v10.6h-10.6zM694.1 535.3h10.6v10.6h-10.6z" fill="#0000c0"/>
<path d="M186.6 653.8l5.4 10.4h-10.8zM195.3 643.8l5.4 10.4h-10.8zM204 632l5.4 10.4h-10.8zM212.7 617.7l5.4 10.4h-10.8zM221.4 600.7l5.4 10.4h-10.8zM230.1 579.5l5.4 10.4h-10.8zM238.7 554.8l5.4 10.4h-10.8zM247.4 524.2l5.4 10.4h-10.8z" fill="#000"/>
<path d="M181.2 687.1a5.4 5.4 0 1 0 10.8 0a5.4 5.4 0 1 0 -10.8 0zM189.9 686.1a5.4 5.4 0 1 0 10.8 0a5.4 5.4 0 1 0 -10.8 0zM198.6 684.9a5.4 5.4 0 1 0 10.8 0a5.4 5.4 0 1 0 -10.8 0zM207.3 683.7a5.4 5.4 0 1 0 10.8 0a5.4 5.4 0 1 0 -10.8 0zM216 682.2a5.4 5.4 0 1 0 10.8 0a5.4 5.4 0 1 0 -10.8 0zM224.7 680.9a5.4 5.4 0 1 0 10.8 0a5.4 5.4 0 1 0 -10.8 0zM233.3 679.3a5.4 5.4 0 1 0 10.8 0a5.4 5.4 0 1 0 -10.8 0zM242 677.9a5.4 5.4 0 1 0 10.8 0a5.4 5.4 0 1 0 -10.8 0zM250.7 676.2a5.4 5.4 0 1 0 10.8 0a5.4 5.4 0 1 0 -10.8 0zM259.4 674.4a5.4 5.4 0 1 0 10.8 0a5.4 5.4 0 1 0 -10.8 0zM268.1 672.2a5.4 5.4 0 1 0 10.8 0a5.4 5.4 0 1 0 -10.8 0zM276.8 669.9a5.4 5.4 0 1 0 10.8 0a5.4 5.4 0 1 0 -10.8 0zM285.5 667.6a5.4 5.4 0 1 0 10.8 0a5.4 5.4 0 1 0 -10.8 0zM294.2 664.7a5.4 5.4 0 1 0 10.8 0a5.4 5.4 0 1 0 -10.8 0zM302.9 661.9a5.4 5.4 0 1 0 10.8 0a5.4 5.4 0 1 0 -10.8 0zM311.6 659a5.4 5.4 0 1 0 10.8 0a5.4 5.4 0 1 0 -10.8 0zM320.3 655.6a5.4 5.4 0 1 0 10.8 0a5.4 5.4 0 1 0 -10.8 0zM329 652.3a5.4 5.4 0 1 0 10.8 0a5.4 5.4 0 1 0 -10.8 0zM337.6 648.3a5.4 5.4 0 1 0 10.8 0a5.4 5.4 0 1 0 -10.8 0zM346.3 644.4a5.4 5.4 0 1 0 10.8 0a5.4 5.4 0 1 0 -10.8 0zM355 640.2a5.4 5.4 0 1 0 10.8 0a5.4 5.4 0 1 0 -10.8 0zM363.7 635.7a5.4 5.4 0 1 0 10.8 0a5.4 5.4 0 1 0 -10.8 0zM372.4 631.2a5.4 5.4 0 1 0 10.8 0a5.4 5.4 0 1 0 -10.8 0zM381.1 626.1a5.4 5.4 0 1 0 10.8 0a5.4 5.4 0 1 0 -10.8 0zM389.8 620.7a5.4 5.4 0 1 0 10.8 0a5.4 5.4 0 1 0 -10.8 0zM398.5 614.9a5.4 5.4 0 1 0 10.8 0a5.4 5.4 0 1 0 -10.8 0zM407.2 608.8a5.4 5.4 0 1 0 10.8 0a5.4 5.4 0 1 0 -10.8 0zM415.9 602.6a5.4 5.4 0 1 0 10.8 0a5.4 5.4 0 1 0 -10.8 0zM424.6 596.2a5.4 5.4 0 1 0 10.8 0a5.4 5.4 0 1 0 -10.8 0zM433.3 589.7a5.4 5.4 0 1 0 10.8 0a5.4 5.4 0 1 0 -10.8 0zM442 582.7a5.4 5.4 0 1 0 10.8 0a5.4 5.4 0 1 0 -10.8 0zM450.6 575.7a5.4 5.4 0 1 0 10.8 0a5.4 5.4 0 1 0 -10.8 0zM459.3 568.3a5.4 5.4 0 1 0 10.8 0a5.4 5.4 0 1 0 -10.8 0zM468 560.9a5.4 5.4 0 1 0 10.8 0a5.4 5.4 0 1 0 -10.8 0zM476.7 553a5.4 5.4 0 1 0 10.8 0a5.4 5.4 0 1 0 -10.8 0zM485.4 544.9a5.4 5.4 0 1 0 10.8 0a5.4 5.4 0 1 0 -10.8 0zM494.1 536.7a5.4 5.4 0 1 0 10.8 0a5.4 5.4 0 1 0 -10.8 0zM502.8 528a5.4 5.4 0 1 0 10.8 0a5.4 5.4 0 1 0 -10.8 0z" fill="#ff0000"/>
<text transform="translate(159.6 529.5) scale(1 1.045)" font-size="26.5" font-weight="bold" text-anchor="end">50000</text>
<text transform="translate(159.6 616.8) scale(1 1.045)" font-size="26.5" font-weight="bold" text-anchor="end">25000</text>
<text transform="translate(159.6 704) scale(1 1.045)" font-size="26.5" font-weight="bold" text-anchor="end">0</text>
<text transform="translate(159.6 791.1) scale(1 1.045)" font-size="26.5" font-weight="bold" text-anchor="end">-25000</text>
<text transform="translate(159.6 878.1) scale(1 1.045)" font-size="26.5" font-weight="bold" text-anchor="end">-50000</text>
<text transform="translate(264.8 737.2) scale(1 1.045)" font-size="26.6" font-weight="bold" text-anchor="middle">10</text>
<text transform="translate(351.7 737.2) scale(1 1.045)" font-size="26.6" font-weight="bold" text-anchor="middle">20</text>
<text transform="translate(438.7 737.2) scale(1 1.045)" font-size="26.6" font-weight="bold" text-anchor="middle">30</text>
<text transform="translate(525.6 737.2) scale(1 1.045)" font-size="26.6" font-weight="bold" text-anchor="middle">40</text>
<text transform="translate(612.5 737.2) scale(1 1.045)" font-size="26.6" font-weight="bold" text-anchor="middle">50</text>
<text transform="translate(699.4 737.2) scale(1 1.045)" font-size="26.6" font-weight="bold" text-anchor="middle">60</text>
<text transform="translate(439.8 778.6) scale(1 1.045)" font-size="28.4" font-weight="bold" text-anchor="middle">Days ahead</text>
<text transform="translate(25.8 693.7) rotate(-90) scale(1 1.045)" font-size="28.9" font-weight="bold" text-anchor="middle">Mean Prediction Bias</text>
<text transform="translate(61 693.7) rotate(-90) scale(1 1.045)" font-size="28.9" font-weight="bold" text-anchor="middle">(Total Cases)</text>
<text x="1.5" y="487" font-size="33.2" font-weight="normal">(<tspan font-style="italic">c</tspan>)</text>
<path d="M556.1 769.7a5.4 5.4 0 1 0 10.8 0a5.4 5.4 0 1 0 -10.8 0z" fill="#ff0000"/>
<path d="M561.5 811.5l5.4 10.4h-10.8z" fill="#000"/>
<path d="M556.1 858.2h10.7v10.7h-10.7z" fill="#0000c0"/>
<path d="M561.5 915.6l5.4 -10.4h-10.8z" fill="#00ff00"/>
<text transform="translate(600.9 778.6) scale(1 1.045)" font-size="28" font-weight="normal" text-anchor="start">Quadratic</text>
<text transform="translate(600.9 825.6) scale(1 1.045)" font-size="28" font-weight="normal" text-anchor="start">Exponential</text>
<text transform="translate(600.9 872.5) scale(1 1.045)" font-size="28" font-weight="normal" text-anchor="start">Square</text>
<text transform="translate(600.9 919.3) scale(1 1.045)" font-size="28" font-weight="normal" text-anchor="start">Gompertz</text>
<path d="M913.1 497.1L913.1 862.5" stroke="#000" stroke-width="4" fill="none"/>
<path d="M897.1 846.5L1476.4 846.5" stroke="#000" stroke-width="4" fill="none"/>
<path d="M897.1 556.1L913.1 556.1" stroke="#000" stroke-width="4" fill="none"/>
<path d="M897.1 628.7L913.1 628.7" stroke="#000" stroke-width="4" fill="none"/>
<path d="M897.1 701.3L913.1 701.3" stroke="#000" stroke-width="4" fill="none"/>
<path d="M897.1 773.9L913.1 773.9" stroke="#000" stroke-width="4" fill="none"/>
<path d="M1100.2 846.5L1100.2 862.5" stroke="#000" stroke-width="4" fill="none"/>
<path d="M1287.3 846.5L1287.3 862.5" stroke="#000" stroke-width="4" fill="none"/>
<path d="M1474.4 846.5L1474.4 862.5" stroke="#000" stroke-width="4" fill="none"/>
<path d="M931.8 846.5L931.8 855" stroke="#000" stroke-width="4" fill="none"/>
<path d="M950.5 846.5L950.5 855" stroke="#000" stroke-width="4" fill="none"/>
<path d="M969.2 846.5L969.2 855" stroke="#000" stroke-width="4" fill="none"/>
<path d="M987.9 846.5L987.9 855" stroke="#000" stroke-width="4" fill="none"/>
<path d="M1006.7 846.5L1006.7 855" stroke="#000" stroke-width="4" fill="none"/>
<path d="M1025.4 846.5L1025.4 855" stroke="#000" stroke-width="4" fill="none"/>
<path d="M1044.1 846.5L1044.1 855" stroke="#000" stroke-width="4" fill="none"/>
<path d="M1062.8 846.5L1062.8 855" stroke="#000" stroke-width="4" fill="none"/>
<path d="M1081.5 846.5L1081.5 855" stroke="#000" stroke-width="4" fill="none"/>
<path d="M1118.9 846.5L1118.9 855" stroke="#000" stroke-width="4" fill="none"/>
<path d="M1137.6 846.5L1137.6 855" stroke="#000" stroke-width="4" fill="none"/>
<path d="M1156.3 846.5L1156.3 855" stroke="#000" stroke-width="4" fill="none"/>
<path d="M1175 846.5L1175 855" stroke="#000" stroke-width="4" fill="none"/>
<path d="M1193.8 846.5L1193.8 855" stroke="#000" stroke-width="4" fill="none"/>
<path d="M1212.5 846.5L1212.5 855" stroke="#000" stroke-width="4" fill="none"/>
<path d="M1231.2 846.5L1231.2 855" stroke="#000" stroke-width="4" fill="none"/>
<path d="M1249.9 846.5L1249.9 855" stroke="#000" stroke-width="4" fill="none"/>
<path d="M1268.6 846.5L1268.6 855" stroke="#000" stroke-width="4" fill="none"/>
<path d="M1306 846.5L1306 855" stroke="#000" stroke-width="4" fill="none"/>
<path d="M1324.7 846.5L1324.7 855" stroke="#000" stroke-width="4" fill="none"/>
<path d="M1343.4 846.5L1343.4 855" stroke="#000" stroke-width="4" fill="none"/>
<path d="M1362.1 846.5L1362.1 855" stroke="#000" stroke-width="4" fill="none"/>
<path d="M1380.8 846.5L1380.8 855" stroke="#000" stroke-width="4" fill="none"/>
<path d="M1399.6 846.5L1399.6 855" stroke="#000" stroke-width="4" fill="none"/>
<path d="M1418.3 846.5L1418.3 855" stroke="#000" stroke-width="4" fill="none"/>
<path d="M1437 846.5L1437 855" stroke="#000" stroke-width="4" fill="none"/>
<path d="M1455.7 846.5L1455.7 855" stroke="#000" stroke-width="4" fill="none"/>
<clipPath id="cd"><rect x="913.1" y="497.1" width="620" height="400"/></clipPath>
<g clip-path="url(#cd)">
<path d="M922.5 576l5.5 5.5l-5.5 5.5l-5.5 -5.5zM931.8 580.9l5.5 5.5l-5.5 5.5l-5.5 -5.5zM941.2 583l5.5 5.5l-5.5 5.5l-5.5 -5.5zM950.5 586.1l5.5 5.5l-5.5 5.5l-5.5 -5.5zM959.9 588.3l5.5 5.5l-5.5 5.5l-5.5 -5.5zM969.2 589.7l5.5 5.5l-5.5 5.5l-5.5 -5.5zM978.6 590.8l5.5 5.5l-5.5 5.5l-5.5 -5.5zM987.9 591.4l5.5 5.5l-5.5 5.5l-5.5 -5.5zM997.3 592.1l5.5 5.5l-5.5 5.5l-5.5 -5.5zM1006.7 593.3l5.5 5.5l-5.5 5.5l-5.5 -5.5zM1016 594.6l5.5 5.5l-5.5 5.5l-5.5 -5.5zM1025.4 597.7l5.5 5.5l-5.5 5.5l-5.5 -5.5zM1034.7 599.5l5.5 5.5l-5.5 5.5l-5.5 -5.5zM1044.1 600.6l5.5 5.5l-5.5 5.5l-5.5 -5.5zM1053.4 601.3l5.5 5.5l-5.5 5.5l-5.5 -5.5zM1062.8 601.5l5.5 5.5l-5.5 5.5l-5.5 -5.5zM1072.1 601.7l5.5 5.5l-5.5 5.5l-5.5 -5.5zM1081.5 601.8l5.5 5.5l-5.5 5.5l-5.5 -5.5zM1090.8 601.9l5.5 5.5l-5.5 5.5l-5.5 -5.5zM1100.2 602l5.5 5.5l-5.5 5.5l-5.5 -5.5zM1109.6 602.5l5.5 5.5l-5.5 5.5l-5.5 -5.5zM1118.9 603.5l5.5 5.5l-5.5 5.5l-5.5 -5.5zM1128.3 603.5l5.5 5.5l-5.5 5.5l-5.5 -5.5zM1137.6 603.5l5.5 5.5l-5.5 5.5l-5.5 -5.5zM1147 603.8l5.5 5.5l-5.5 5.5l-5.5 -5.5zM1156.3 604l5.5 5.5l-5.5 5.5l-5.5 -5.5zM1165.7 605.5l5.5 5.5l-5.5 5.5l-5.5 -5.5zM1175 608.5l5.5 5.5l-5.5 5.5l-5.5 -5.5zM1184.4 611.5l5.5 5.5l-5.5 5.5l-5.5 -5.5zM1193.8 613.5l5.5 5.5l-5.5 5.5l-5.5 -5.5zM1203.1 615l5.5 5.5l-5.5 5.5l-5.5 -5.5zM1212.5 616.5l5.5 5.5l-5.5 5.5l-5.5 -5.5zM1221.8 618l5.5 5.5l-5.5 5.5l-5.5 -5.5zM1231.2 619l5.5 5.5l-5.5 5.5l-5.5 -5.5zM1240.5 619.7l5.5 5.5l-5.5 5.5l-5.5 -5.5zM1249.9 621.1l5.5 5.5l-5.5 5.5l-5.5 -5.5zM1259.2 623.3l5.5 5.5l-5.5 5.5l-5.5 -5.5zM1268.6 624.7l5.5 5.5l-5.5 5.5l-5.5 -5.5zM1277.9 625.3l5.5 5.5l-5.5 5.5l-5.5 -5.5zM1287.3 625.5l5.5 5.5l-5.5 5.5l-5.5 -5.5zM1296.7 626l5.5 5.5l-5.5 5.5l-5.5 -5.5zM1306 626.5l5.5 5.5l-5.5 5.5l-5.5 -5.5zM1315.4 627l5.5 5.5l-5.5 5.5l-5.5 -5.5zM1324.7 627.5l5.5 5.5l-5.5 5.5l-5.5 -5.5zM1334.1 628l5.5 5.5l-5.5 5.5l-5.5 -5.5zM1343.4 628.5l5.5 5.5l-5.5 5.5l-5.5 -5.5zM1352.8 629l5.5 5.5l-5.5 5.5l-5.5 -5.5zM1362.1 629.5l5.5 5.5l-5.5 5.5l-5.5 -5.5zM1371.5 630l5.5 5.5l-5.5 5.5l-5.5 -5.5zM1380.8 630.5l5.5 5.5l-5.5 5.5l-5.5 -5.5zM1390.2 631l5.5 5.5l-5.5 5.5l-5.5 -5.5zM1399.6 631.5l5.5 5.5l-5.5 5.5l-5.5 -5.5zM1408.9 632l5.5 5.5l-5.5 5.5l-5.5 -5.5zM1418.3 632.5l5.5 5.5l-5.5 5.5l-5.5 -5.5zM1427.6 633l5.5 5.5l-5.5 5.5l-5.5 -5.5zM1437 633.5l5.5 5.5l-5.5 5.5l-5.5 -5.5zM1446.3 634l5.5 5.5l-5.5 5.5l-5.5 -5.5zM1455.7 634.5l5.5 5.5l-5.5 5.5l-5.5 -5.5zM1465 635l5.5 5.5l-5.5 5.5l-5.5 -5.5zM1474.4 635.5l5.5 5.5l-5.5 5.5l-5.5 -5.5z" fill="#00ff00"/>
<path d="M917 488.2h11v11h-11zM926.3 502.6h11v11h-11zM935.7 516.3h11v11h-11zM945 525.8h11v11h-11zM954.4 540.7h11v11h-11zM963.7 547h11v11h-11zM973.1 554.4h11v11h-11zM982.4 556.9h11v11h-11zM991.8 561.8h11v11h-11zM1001.2 565.9h11v11h-11zM1010.5 574.2h11v11h-11zM1019.9 576.2h11v11h-11zM1029.2 582.8h11v11h-11zM1038.6 586.9h11v11h-11zM1047.9 591.4h11v11h-11zM1057.3 595.5h11v11h-11zM1066.6 592.6h11v11h-11zM1076 597h11v11h-11zM1085.3 599.6h11v11h-11zM1094.7 603.7h11v11h-11zM1104.1 607.3h11v11h-11zM1113.4 607.3h11v11h-11zM1122.8 610.9h11v11h-11zM1132.1 613.5h11v11h-11zM1141.5 620h11v11h-11zM1150.8 615.6h11v11h-11zM1160.2 621.2h11v11h-11zM1169.5 622.1h11v11h-11zM1178.9 618.8h11v11h-11zM1188.2 618h11v11h-11zM1197.6 609.5h11v11h-11zM1207 616.9h11v11h-11zM1216.3 615.9h11v11h-11zM1225.7 625.4h11v11h-11zM1235 627.5h11v11h-11zM1244.4 635.9h11v11h-11zM1253.7 632.8h11v11h-11zM1263.1 635.9h11v11h-11zM1272.4 642.3h11v11h-11zM1281.8 642.2h11v11h-11zM1291.2 640.6h11v11h-11zM1300.5 641.6h11v11h-11zM1309.9 644.8h11v11h-11zM1319.2 646h11v11h-11zM1328.6 649.5h11v11h-11zM1337.9 652.9h11v11h-11zM1347.3 656.3h11v11h-11zM1356.6 658.8h11v11h-11zM1366 661.4h11v11h-11zM1375.3 661.9h11v11h-11zM1384.7 663.1h11v11h-11zM1394.1 668.1h11v11h-11zM1403.4 663.1h11v11h-11zM1412.8 663.6h11v11h-11zM1422.1 666.4h11v11h-11zM1431.5 671.5h11v11h-11zM1440.8 680.8h11v11h-11zM1450.2 676.6h11v11h-11zM1459.5 675.8h11v11h-11zM1468.9 679.7h11v11h-11z" fill="#0000ff"/>
<path d="M922.5 518.4l5.7 11h-11.4zM931.8 525.8l5.7 11h-11.4zM941.2 536.4l5.7 11h-11.4zM950.5 544.9l5.7 11h-11.4zM959.9 555.5l5.7 11h-11.4zM969.2 564.5l5.7 11h-11.4zM978.6 573.4l5.7 11h-11.4zM987.9 583l5.7 11h-11.4zM997.3 592.5l5.7 11h-11.4zM1006.7 600.7l5.7 11h-11.4zM1016 606.6l5.7 11h-11.4zM1025.4 613.8l5.7 11h-11.4zM1034.7 620.8l5.7 11h-11.4zM1044.1 625l5.7 11h-11.4zM1053.4 633.9l5.7 11h-11.4zM1062.8 633.9l5.7 11h-11.4zM1072.1 633.5l5.7 11h-11.4zM1081.5 631.3l5.7 11h-11.4zM1090.8 637.2l5.7 11h-11.4zM1100.2 640.8l5.7 11h-11.4zM1109.6 646.8l5.7 11h-11.4zM1118.9 650.3l5.7 11h-11.4zM1128.3 657.6l5.7 11h-11.4zM1137.6 660.5l5.7 11h-11.4zM1147 669.4l5.7 11h-11.4zM1156.3 671.5l5.7 11h-11.4zM1165.7 681.4l5.7 11h-11.4zM1175 684l5.7 11h-11.4zM1184.4 710.6l5.7 11h-11.4zM1193.8 713.2l5.7 11h-11.4zM1203.1 728.4l5.7 11h-11.4zM1212.5 731l5.7 11h-11.4zM1221.8 734.2l5.7 11h-11.4zM1231.2 738l5.7 11h-11.4zM1240.5 753.5l5.7 11h-11.4zM1249.9 770.1l5.7 11h-11.4zM1259.2 774.9l5.7 11h-11.4zM1268.6 777l5.7 11h-11.4zM1277.9 779.2l5.7 11h-11.4zM1287.3 785.9l5.7 11h-11.4zM1296.7 788.7l5.7 11h-11.4zM1306 785.5l5.7 11h-11.4zM1315.4 785.5l5.7 11h-11.4zM1324.7 788.7l5.7 11h-11.4zM1334.1 798.6l5.7 11h-11.4zM1343.4 798.6l5.7 11h-11.4zM1352.8 798.6l5.7 11h-11.4zM1362.1 798.6l5.7 11h-11.4zM1371.5 798.6l5.7 11h-11.4zM1380.8 814.1l5.7 11h-11.4zM1390.2 814.1l5.7 11h-11.4zM1399.6 821.5l5.7 11h-11.4zM1408.9 821.5l5.7 11h-11.4zM1418.3 821.5l5.7 11h-11.4zM1427.6 821.5l5.7 11h-11.4zM1437 830.6l5.7 11h-11.4zM1446.3 830.6l5.7 11h-11.4zM1455.7 830.6l5.7 11h-11.4zM1465 830.6l5.7 11h-11.4zM1474.4 830.6l5.7 11h-11.4z" fill="#000"/>
<path d="M916.8 532.8a5.7 5.7 0 1 0 11.4 0a5.7 5.7 0 1 0 -11.4 0zM926.1 537.7a5.7 5.7 0 1 0 11.4 0a5.7 5.7 0 1 0 -11.4 0zM935.5 540.9a5.7 5.7 0 1 0 11.4 0a5.7 5.7 0 1 0 -11.4 0zM944.8 548.3a5.7 5.7 0 1 0 11.4 0a5.7 5.7 0 1 0 -11.4 0zM954.2 554a5.7 5.7 0 1 0 11.4 0a5.7 5.7 0 1 0 -11.4 0zM963.5 557.8a5.7 5.7 0 1 0 11.4 0a5.7 5.7 0 1 0 -11.4 0zM972.9 563.7a5.7 5.7 0 1 0 11.4 0a5.7 5.7 0 1 0 -11.4 0zM982.2 570.5a5.7 5.7 0 1 0 11.4 0a5.7 5.7 0 1 0 -11.4 0zM991.6 576.4a5.7 5.7 0 1 0 11.4 0a5.7 5.7 0 1 0 -11.4 0zM1001 582.4a5.7 5.7 0 1 0 11.4 0a5.7 5.7 0 1 0 -11.4 0zM1010.3 586.6a5.7 5.7 0 1 0 11.4 0a5.7 5.7 0 1 0 -11.4 0zM1019.7 592.1a5.7 5.7 0 1 0 11.4 0a5.7 5.7 0 1 0 -11.4 0zM1029 596.1a5.7 5.7 0 1 0 11.4 0a5.7 5.7 0 1 0 -11.4 0zM1038.4 599.8a5.7 5.7 0 1 0 11.4 0a5.7 5.7 0 1 0 -11.4 0zM1047.7 602.5a5.7 5.7 0 1 0 11.4 0a5.7 5.7 0 1 0 -11.4 0zM1057.1 607.7a5.7 5.7 0 1 0 11.4 0a5.7 5.7 0 1 0 -11.4 0zM1066.4 609.7a5.7 5.7 0 1 0 11.4 0a5.7 5.7 0 1 0 -11.4 0zM1075.8 610.2a5.7 5.7 0 1 0 11.4 0a5.7 5.7 0 1 0 -11.4 0zM1085.1 612.8a5.7 5.7 0 1 0 11.4 0a5.7 5.7 0 1 0 -11.4 0zM1094.5 615.2a5.7 5.7 0 1 0 11.4 0a5.7 5.7 0 1 0 -11.4 0zM1103.9 618.3a5.7 5.7 0 1 0 11.4 0a5.7 5.7 0 1 0 -11.4 0zM1113.2 615.6a5.7 5.7 0 1 0 11.4 0a5.7 5.7 0 1 0 -11.4 0zM1122.6 617a5.7 5.7 0 1 0 11.4 0a5.7 5.7 0 1 0 -11.4 0zM1131.9 617.8a5.7 5.7 0 1 0 11.4 0a5.7 5.7 0 1 0 -11.4 0zM1141.3 611.7a5.7 5.7 0 1 0 11.4 0a5.7 5.7 0 1 0 -11.4 0zM1150.6 613.8a5.7 5.7 0 1 0 11.4 0a5.7 5.7 0 1 0 -11.4 0zM1160 615.8a5.7 5.7 0 1 0 11.4 0a5.7 5.7 0 1 0 -11.4 0zM1169.3 620.9a5.7 5.7 0 1 0 11.4 0a5.7 5.7 0 1 0 -11.4 0zM1178.7 623.1a5.7 5.7 0 1 0 11.4 0a5.7 5.7 0 1 0 -11.4 0zM1188 627.7a5.7 5.7 0 1 0 11.4 0a5.7 5.7 0 1 0 -11.4 0zM1197.4 628.3a5.7 5.7 0 1 0 11.4 0a5.7 5.7 0 1 0 -11.4 0zM1206.8 631.3a5.7 5.7 0 1 0 11.4 0a5.7 5.7 0 1 0 -11.4 0zM1216.1 636.2a5.7 5.7 0 1 0 11.4 0a5.7 5.7 0 1 0 -11.4 0zM1225.5 640a5.7 5.7 0 1 0 11.4 0a5.7 5.7 0 1 0 -11.4 0zM1234.8 644.6a5.7 5.7 0 1 0 11.4 0a5.7 5.7 0 1 0 -11.4 0zM1244.2 646.3a5.7 5.7 0 1 0 11.4 0a5.7 5.7 0 1 0 -11.4 0zM1253.5 648.9a5.7 5.7 0 1 0 11.4 0a5.7 5.7 0 1 0 -11.4 0zM1262.9 653.1a5.7 5.7 0 1 0 11.4 0a5.7 5.7 0 1 0 -11.4 0zM1272.2 655.2a5.7 5.7 0 1 0 11.4 0a5.7 5.7 0 1 0 -11.4 0zM1281.6 656.3a5.7 5.7 0 1 0 11.4 0a5.7 5.7 0 1 0 -11.4 0zM1291 657.5a5.7 5.7 0 1 0 11.4 0a5.7 5.7 0 1 0 -11.4 0zM1300.3 658.4a5.7 5.7 0 1 0 11.4 0a5.7 5.7 0 1 0 -11.4 0zM1309.7 659.4a5.7 5.7 0 1 0 11.4 0a5.7 5.7 0 1 0 -11.4 0zM1319 661.2a5.7 5.7 0 1 0 11.4 0a5.7 5.7 0 1 0 -11.4 0zM1328.4 662.1a5.7 5.7 0 1 0 11.4 0a5.7 5.7 0 1 0 -11.4 0zM1337.7 664a5.7 5.7 0 1 0 11.4 0a5.7 5.7 0 1 0 -11.4 0zM1347.1 665.2a5.7 5.7 0 1 0 11.4 0a5.7 5.7 0 1 0 -11.4 0zM1356.4 666.5a5.7 5.7 0 1 0 11.4 0a5.7 5.7 0 1 0 -11.4 0zM1365.8 668.6a5.7 5.7 0 1 0 11.4 0a5.7 5.7 0 1 0 -11.4 0zM1375.1 669.4a5.7 5.7 0 1 0 11.4 0a5.7 5.7 0 1 0 -11.4 0zM1384.5 670.3a5.7 5.7 0 1 0 11.4 0a5.7 5.7 0 1 0 -11.4 0zM1393.9 671.9a5.7 5.7 0 1 0 11.4 0a5.7 5.7 0 1 0 -11.4 0zM1403.2 675a5.7 5.7 0 1 0 11.4 0a5.7 5.7 0 1 0 -11.4 0zM1412.6 676.2a5.7 5.7 0 1 0 11.4 0a5.7 5.7 0 1 0 -11.4 0zM1421.9 677a5.7 5.7 0 1 0 11.4 0a5.7 5.7 0 1 0 -11.4 0zM1431.3 678.7a5.7 5.7 0 1 0 11.4 0a5.7 5.7 0 1 0 -11.4 0zM1440.6 680.4a5.7 5.7 0 1 0 11.4 0a5.7 5.7 0 1 0 -11.4 0zM1450 681.6a5.7 5.7 0 1 0 11.4 0a5.7 5.7 0 1 0 -11.4 0zM1459.3 683a5.7 5.7 0 1 0 11.4 0a5.7 5.7 0 1 0 -11.4 0zM1468.7 683.8a5.7 5.7 0 1 0 11.4 0a5.7 5.7 0 1 0 -11.4 0z" fill="#ff0000"/>
</g>
<text transform="translate(874.2 566.3) scale(1 1.045)" font-size="28.5" font-weight="bold" text-anchor="end">10</text>
<text transform="translate(876.2 558.2) scale(1 1.045)" font-size="18.5" font-weight="bold" text-anchor="start">-5</text>
<text transform="translate(874.2 638.9) scale(1 1.045)" font-size="28.5" font-weight="bold" text-anchor="end">10</text>
<text transform="translate(876.2 630.8) scale(1 1.045)" font-size="18.5" font-weight="bold" text-anchor="start">-6</text>
<text transform="translate(874.2 711.5) scale(1 1.045)" font-size="28.5" font-weight="bold" text-anchor="end">10</text>
<text transform="translate(876.2 703.4) scale(1 1.045)" font-size="18.5" font-weight="bold" text-anchor="start">-7</text>
<text transform="translate(874.2 784.1) scale(1 1.045)" font-size="28.5" font-weight="bold" text-anchor="end">10</text>
<text transform="translate(876.2 776) scale(1 1.045)" font-size="18.5" font-weight="bold" text-anchor="start">-8</text>
<text transform="translate(874.2 856.7) scale(1 1.045)" font-size="28.5" font-weight="bold" text-anchor="end">10</text>
<text transform="translate(876.2 848.6) scale(1 1.045)" font-size="18.5" font-weight="bold" text-anchor="start">-9</text>
<text transform="translate(913.1 892.8) scale(1 1.045)" font-size="28.5" font-weight="bold" text-anchor="middle">0</text>
<text transform="translate(1100.2 892.8) scale(1 1.045)" font-size="28.5" font-weight="bold" text-anchor="middle">20</text>
<text transform="translate(1287.3 892.8) scale(1 1.045)" font-size="28.5" font-weight="bold" text-anchor="middle">40</text>
<text transform="translate(1474.4 892.8) scale(1 1.045)" font-size="28.5" font-weight="bold" text-anchor="middle">60</text>
<text transform="translate(1194 935.8) scale(1 1.045)" font-size="30" font-weight="bold" text-anchor="middle">Days Ahead</text>
<text transform="translate(813.9 664.6) rotate(-90) scale(1 1.045)" font-size="30" font-weight="bold" text-anchor="middle">Reward Score</text>
<text x="769.8" y="487" font-size="33.2" font-weight="normal">(<tspan font-style="italic">d</tspan>)</text>
<path d="M955.2 692.4a5.7 5.7 0 1 0 11.4 0a5.7 5.7 0 1 0 -11.4 0z" fill="#ff0000"/>
<path d="M960.9 723.1l5.7 11h-11.4z" fill="#000"/>
<path d="M955.3 766.8h11.2v11.2h-11.2z" fill="#0000ff"/>
<path d="M960.9 806.5l5.6 5.6l-5.6 5.6l-5.6 -5.6z" fill="#00ff00"/>
<text transform="translate(1003.6 702) scale(1 1.045)" font-size="30" font-weight="normal" text-anchor="start">Quadratic</text>
<text transform="translate(1003.6 738.5) scale(1 1.045)" font-size="30" font-weight="normal" text-anchor="start">Exponential</text>
<text transform="translate(1003.6 782) scale(1 1.045)" font-size="30" font-weight="normal" text-anchor="start">Square</text>
<text transform="translate(1003.6 821.2) scale(1 1.045)" font-size="30" font-weight="normal" text-anchor="start">Gompertz</text>
</svg>
</body>
</html>
